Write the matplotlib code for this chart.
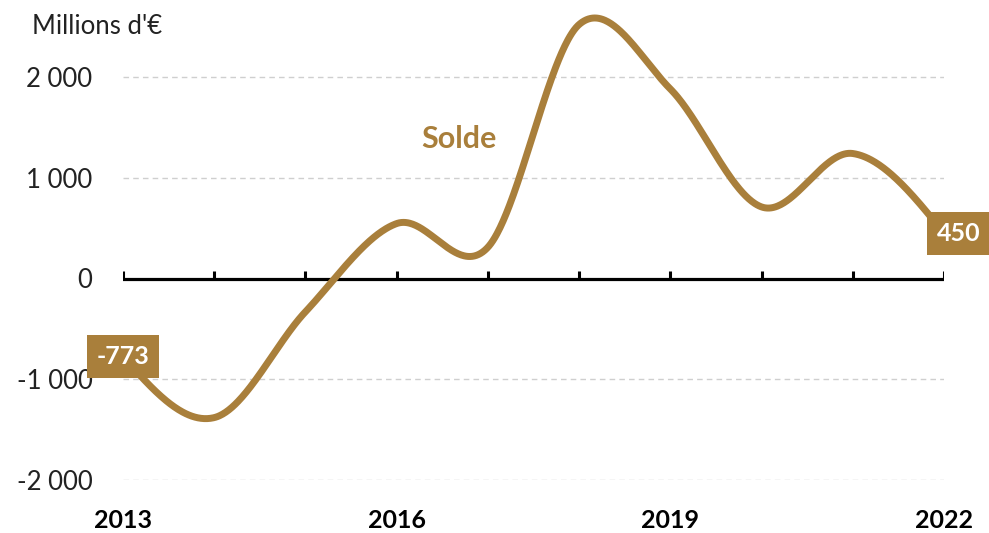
import matplotlib
matplotlib.use("Agg")
import matplotlib.pyplot as plt
import numpy as np

plt.rcParams['font.family'] = ['Lato', 'DejaVu Sans']

# données (millions d'euros)
annees = [2013, 2014, 2015, 2016, 2017, 2018, 2019, 2020, 2021, 2022]
solde = [-773, -1380, -330, 545, 310, 2520, 1880, 710, 1240, 450]
annees_labels = [2013, 2016, 2019, 2022]
y_ticks = [-2000, -1000, 0, 1000, 2000]

or_col = '#A97F3B'


def spline_catmull(x, y, xs):
    # Catmull-Rom à l'intérieur, extrémités "naturelles"
    x = np.asarray(x, float)
    y = np.asarray(y, float)
    n = len(x)
    m = np.zeros(n)
    m[1:-1] = (y[2:] - y[:-2]) / (x[2:] - x[:-2])
    m[0] = (3 * (y[1] - y[0]) / (x[1] - x[0]) - m[1]) / 2
    m[-1] = (3 * (y[-1] - y[-2]) / (x[-1] - x[-2]) - m[-2]) / 2
    idx = np.clip(np.searchsorted(x, xs) - 1, 0, n - 2)
    h = x[idx + 1] - x[idx]
    t = (xs - x[idx]) / h
    h00 = 2 * t**3 - 3 * t**2 + 1
    h10 = t**3 - 2 * t**2 + t
    h01 = -2 * t**3 + 3 * t**2
    h11 = t**3 - t**2
    return h00 * y[idx] + h10 * h * m[idx] + h01 * y[idx + 1] + h11 * h * m[idx + 1]


W, H = 989, 533
px_par_unite = 0.1008
y_min, y_max = -2000, 2700
fig = plt.figure(figsize=(W / 100, H / 100), dpi=100)
ax = fig.add_axes([123 / W, (H - 480.1) / H, (944 - 123) / W, (y_max - y_min) * px_par_unite / H])
ax.set_xlim(annees[0], annees[-1])
ax.set_ylim(y_min, y_max)

for s in ax.spines.values():
    s.set_visible(False)

# grille pointillée
for v in y_ticks:
    if v != 0:
        ax.axhline(v, color='#cfcfcf', lw=1, ls=(0, (4, 3)), zorder=1)

# axe zéro avec graduations
ax.axhline(0, color='black', lw=2.3, zorder=2)
ax.vlines(annees, 0, 75, color='black', lw=2.2, zorder=2)

xs = np.linspace(annees[0], annees[-1], 800)
ax.plot(xs, spline_catmull(annees, solde, xs), color=or_col, lw=5,
        solid_capstyle='round', zorder=3, clip_on=False)

ax.set_xticks(annees_labels)
ax.set_xticklabels([str(a) for a in annees_labels], fontsize=18, fontweight='bold')
ax.tick_params(axis='x', length=0, pad=21)
ax.set_yticks(y_ticks)
ax.set_yticklabels([f"{v:,}".replace(',', ' ') for v in y_ticks], fontsize=18.5, color='#222222')
ax.tick_params(axis='y', length=0, pad=22)

fig.text(32 / W, 1 - 27 / H, "Millions d'€", fontsize=18.5, color='#222222', va='center', ha='left')
ax.text(2016.68, 1380, 'Solde', color=or_col, fontsize=22, fontweight='bold', ha='center', va='center')

# étiquettes première / dernière valeur
ax.annotate(f"{solde[0]}", (annees[0], solde[0]), xytext=(0, 0), textcoords='offset pixels',
            ha='center', va='center', color='white', fontsize=18, fontweight='bold', zorder=5,
            bbox=dict(boxstyle='square,pad=0.4', fc=or_col, ec='none'))
ax.annotate(f"{solde[-1]}", (annees[-1], solde[-1]), xytext=(15, 0), textcoords='offset pixels',
            ha='center', va='center', color='white', fontsize=18, fontweight='bold', zorder=5,
            bbox=dict(boxstyle='square,pad=0.4', fc=or_col, ec='none'), annotation_clip=False)

fig.savefig('out.png', dpi=100)
